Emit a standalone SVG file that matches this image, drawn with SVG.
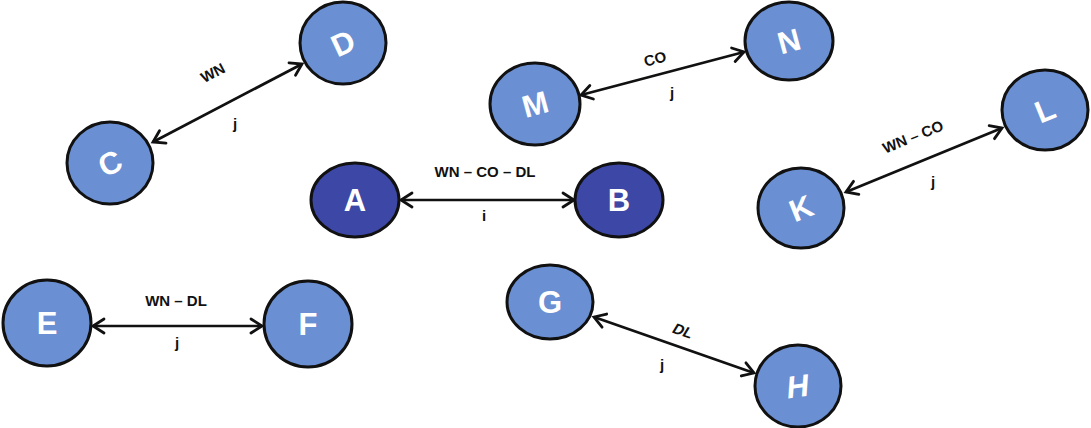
<svg xmlns="http://www.w3.org/2000/svg" width="1091" height="428" viewBox="0 0 1091 428">
<defs>
<style>
.light{fill:#6a8fd2;stroke:#111;stroke-width:3}
.dark{fill:#3d47a5;stroke:#111;stroke-width:3}
.nl{font-family:"Liberation Sans",Arial,sans-serif;font-weight:bold;font-size:31px;fill:#fff;text-anchor:middle}
.el{font-family:"Liberation Sans",Arial,sans-serif;font-weight:bold;font-size:15px;fill:#111;text-anchor:middle}
.edge{stroke:#111;stroke-width:2.7;fill:none;marker-start:url(#arr);marker-end:url(#arr)}
</style>
<marker id="arr" markerUnits="userSpaceOnUse" markerWidth="20" markerHeight="20" viewBox="-14 -10 18 20" refX="0" refY="0" orient="auto-start-reverse">
<path d="M-11,-7 L0,0 L-11,7" fill="none" stroke="#111" stroke-width="2.8" stroke-linecap="round" stroke-linejoin="miter"/>
</marker>
</defs>
<rect width="1091" height="428" fill="#fff"/>
<g id="connectors">
<line class="edge" x1="401" y1="200" x2="574" y2="200"/>
<line class="edge" x1="153" y1="142" x2="302" y2="64"/>
<line class="edge" x1="581" y1="95" x2="744" y2="52"/>
<line class="edge" x1="846" y1="192" x2="1002" y2="128"/>
<line class="edge" x1="594" y1="317" x2="754" y2="373"/>
<line class="edge" x1="93" y1="326" x2="262" y2="326"/>
<text class="el" x="485" y="177">WN – CO – DL</text>
<text class="el" x="484" y="221">i</text>
<text class="el" transform="translate(213,73) rotate(-28)" y="5">WN</text>
<text class="el" x="235" y="129">j</text>
<text class="el" transform="translate(655,59) rotate(-15)" y="5">CO</text>
<text class="el" x="672" y="98">j</text>
<text class="el" transform="translate(913,137) rotate(-22)" y="5">WN – CO</text>
<text class="el" x="933" y="187">j</text>
<text class="el" transform="translate(683,331) rotate(19) skewX(-12)" y="5">DL</text>
<text class="el" x="662" y="370">j</text>
<text class="el" x="176" y="306">WN – DL</text>
<text class="el" x="177" y="348">j</text>
</g>
<g id="node-A"><ellipse class="dark" cx="355" cy="200" rx="44" ry="37"/><text class="nl" x="355" y="211">A</text></g>
<g id="node-B"><ellipse class="dark" cx="619" cy="200" rx="44" ry="37"/><text class="nl" x="619" y="211">B</text></g>
<g id="node-C"><ellipse class="light" cx="110" cy="163" rx="43" ry="41"/><text class="nl" transform="translate(110,163) rotate(-25)" y="11">C</text></g>
<g id="node-D"><ellipse class="light" cx="343" cy="43" rx="43" ry="41"/><text class="nl" transform="translate(343,43) rotate(-25)" y="11">D</text></g>
<g id="node-M"><ellipse class="light" cx="535" cy="104" rx="45" ry="41"/><text class="nl" transform="translate(535,104) rotate(-15)" y="11">M</text></g>
<g id="node-N"><ellipse class="light" cx="789" cy="41" rx="44" ry="39"/><text class="nl" transform="translate(789,41) rotate(-15)" y="11">N</text></g>
<g id="node-K"><ellipse class="light" cx="801" cy="208" rx="43" ry="40"/><text class="nl" transform="translate(801,208) rotate(-22)" y="11">K</text></g>
<g id="node-L"><ellipse class="light" cx="1045" cy="110" rx="43" ry="40"/><text class="nl" transform="translate(1045,110) rotate(-22)" y="11">L</text></g>
<g id="node-G"><ellipse class="light" cx="550" cy="302" rx="43" ry="37"/><text class="nl" x="550" y="313">G</text></g>
<g id="node-H"><ellipse class="light" cx="798" cy="386" rx="43" ry="41"/><text class="nl" transform="translate(798,386) rotate(-8) skewX(-12)" y="11">H</text></g>
<g id="node-E"><ellipse class="light" cx="47" cy="323" rx="44" ry="43"/><text class="nl" x="47" y="334">E</text></g>
<g id="node-F"><ellipse class="light" cx="308" cy="324" rx="44" ry="43"/><text class="nl" x="308" y="335">F</text></g>
</svg>
